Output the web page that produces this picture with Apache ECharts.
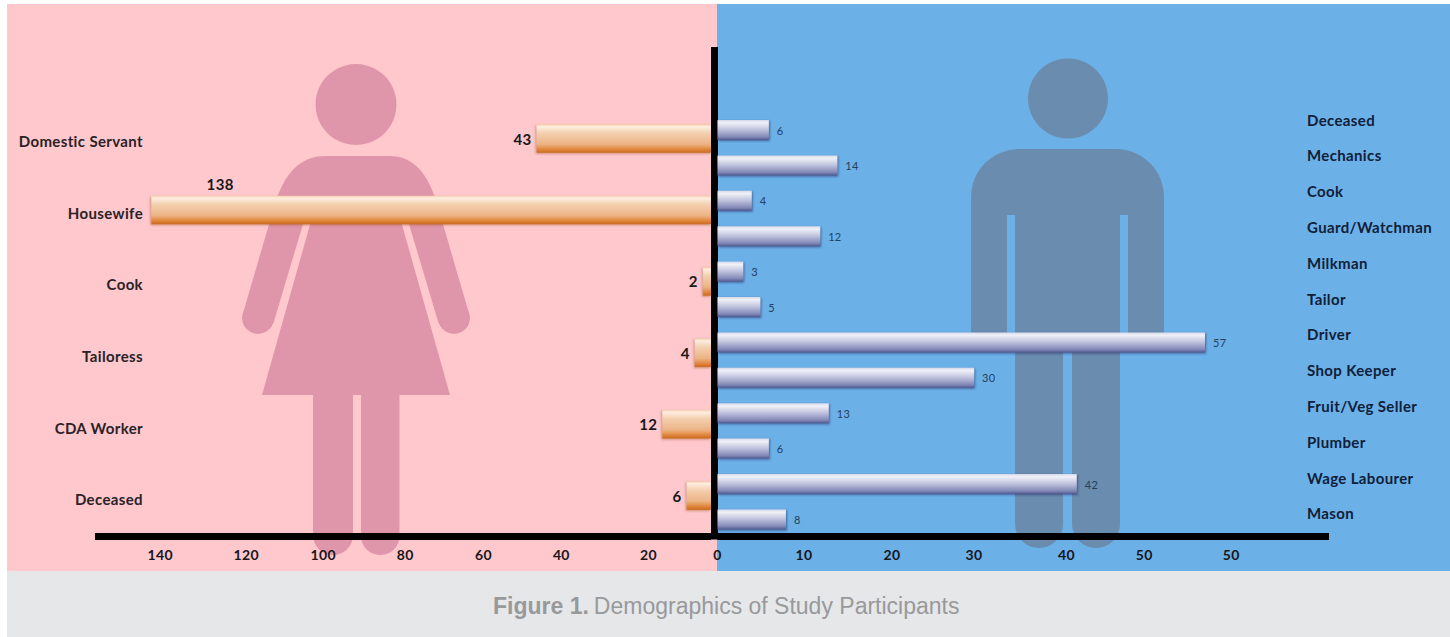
<!DOCTYPE html>
<html>
<head>
<meta charset="utf-8">
<style>
  html, body { margin: 0; padding: 0; background: #fff; }
  #main { width: 1450px; height: 637px; }
  #main text { letter-spacing: 0.36px; }
  #main text[style*="Liberation"] { letter-spacing: 0; }
</style>
<script src="https://cdn.jsdelivr.net/npm/echarts@6/dist/echarts.min.js"></script>
</head>
<body>
<div id="main"></div>
<script>
// Women's occupations, top to bottom
const femaleCategories = ['Domestic Servant', 'Housewife', 'Cook', 'Tailoress', 'CDA Worker', 'Deceased'];
const femaleValues = [43, 138, 2, 4, 12, 6];

// Men's occupations, top to bottom
const maleCategories = ['Deceased', 'Mechanics', 'Cook', 'Guard/Watchman', 'Milkman', 'Tailor', 'Driver',
  'Shop Keeper', 'Fruit/Veg Seller', 'Plumber', 'Wage Labourer', 'Mason'];
const maleValues = [6, 14, 4, 12, 3, 5, 57, 30, 13, 6, 42, 8];

// Printed axis labels, with the axis units each one is printed at.
const femaleTickLabels = ['20', '40', '60', '80', '100', '120', '140'];
const femaleTickStops = [15.4, 36.9, 56.1, 75.4, 95.6, 114.6, 135.8];
const maleTickLabels = ['0', '10', '20', '30', '40', '50', '50'];
const maleTickStops = [0, 10.1, 20.4, 30, 40.8, 49.9, 60.06];

const FONT = 'Lato, "Open Sans", sans-serif';
const CAPTION_FONT = '"Liberation Sans"';
const PINK = '#fec8cd', BLUE = '#6cb0e8', GREY = '#e6e7e9';
const WOMAN = '#e096aa', MAN = '#6a8cae';

const vGrad = stops => ({
  type: 'linear', x: 0, y: 0, x2: 0, y2: 1,
  colorStops: stops.map(([offset, color]) => ({ offset, color }))
});
const orangeFill = vGrad([[0, '#f6cdaa'], [0.08, '#fdeee2'], [0.3, '#f3d0b0'], [0.7, '#ecb384'], [0.9, '#de8133'], [1, '#c96a20']]);
const steelFill = vGrad([[0, '#d5d8ea'], [0.14, '#f0f1f8'], [0.5, '#bdc0dc'], [0.85, '#8288b6'], [1, '#50598f']]);

// Points along a quadratic curve, for the rounded shoulders
function quad(p0, c, p1, n = 14) {
  const pts = [];
  for (let i = 0; i <= n; i++) {
    const t = i / n, u = 1 - t;
    pts.push([u * u * p0[0] + 2 * u * t * c[0] + t * t * p1[0], u * u * p0[1] + 2 * u * t * c[1] + t * t * p1[1]]);
  }
  return pts;
}

const rect = (x, y, width, height, fill, r, z = -9) =>
  ({ type: 'rect', z, silent: true, shape: { x, y, width, height, r: r || 0 }, style: { fill } });
const circle = (cx, cy, r, fill) =>
  ({ type: 'circle', z: -9, silent: true, shape: { cx, cy, r }, style: { fill } });
const poly = (points, fill) =>
  ({ type: 'polygon', z: -9, silent: true, shape: { points }, style: { fill } });

const backdrop = [
  rect(7, 4, 710, 567, PINK, 0, -10),
  rect(717, 4, 733, 567, BLUE, 0, -10),
  rect(7, 571, 1443, 66, GREY, 0, -10)
];

const womanFigure = [
  circle(356, 104.5, 40.5, WOMAN),
  poly([...quad([278, 195], [293, 156], [325, 156]), ...quad([390, 156], [420, 156], [434, 195]), [440, 215], [272, 215]], WOMAN),
  poly([[272, 214], [242.5, 315], [273.5, 323], [303, 224], [303, 214]], WOMAN),
  circle(258, 318, 16, WOMAN),
  poly([[440, 214], [469.5, 315], [438.5, 323], [409, 224], [409, 214]], WOMAN),
  circle(454, 318, 16, WOMAN),
  poly([[313, 214], [399, 214], [450, 395], [262, 395]], WOMAN),
  rect(313, 394, 40, 161, WOMAN, [0, 0, 20, 20]),
  rect(361, 394, 38.5, 161, WOMAN, [0, 0, 19, 19])
];

const manFigure = [
  circle(1068, 98.5, 40, MAN),
  rect(971, 149, 193, 66, MAN, [48, 48, 0, 0]),
  rect(971, 214, 36, 125, MAN),
  rect(1128, 214, 36, 125, MAN),
  rect(1015, 214, 105, 136, MAN),
  rect(1015, 345, 48, 203, MAN, [0, 0, 24, 24]),
  rect(1072, 345, 48, 203, MAN, [0, 0, 24, 24])
];

const tickLabelStyle = {
  color: '#17161a', fontFamily: FONT, fontWeight: 'bold', fontSize: 14, margin: 11
};
const axisStroke = { color: '#000', width: 7, cap: 'butt' };

const option = {
  animation: false,
  backgroundColor: '#fff',
  title: {
    left: 493, top: 594, padding: 0,
    text: '{b|Figure 1.} {r|Demographics of Study Participants}',
    textStyle: {
      fontWeight: 'normal',
      rich: {
        b: { fontFamily: CAPTION_FONT, fontSize: 23, fontWeight: 'bold', color: '#98999b' },
        r: { fontFamily: CAPTION_FONT, fontSize: 23, fontWeight: 'normal', color: '#98999b' }
      }
    }
  },
  graphic: { elements: [...backdrop, ...womanFigure, ...manFigure] },
  grid: [
    { left: 95, top: 102.9, width: 616, height: 428.4 },
    { left: 717.5, top: 112.3, width: 611.5, height: 424.8 },
    { left: 143, top: 105.4, width: 1, height: 429.6 },
    { left: 1306, top: 101.6, width: 1, height: 429.6 },
    { left: 714, top: 47, width: 1, height: 492.5 }
  ],
  xAxis: [
    {
      gridIndex: 0, type: 'value', inverse: true, min: 0, max: 151.9, offset: 4.8,
      splitLine: { show: false }, axisTick: { show: false },
      axisLine: { show: true, onZero: false, lineStyle: axisStroke },
      axisLabel: {
        ...tickLabelStyle, customValues: femaleTickStops,
        formatter: (v) => femaleTickLabels[femaleTickStops.indexOf(v)]
      }
    },
    {
      gridIndex: 1, type: 'value', min: 0, max: 71.5, offset: -1,
      splitLine: { show: false }, axisTick: { show: false },
      axisLine: { show: true, onZero: false, lineStyle: axisStroke },
      axisLabel: {
        ...tickLabelStyle, customValues: maleTickStops,
        formatter: (v) => maleTickLabels[maleTickStops.indexOf(v)]
      }
    },
    { gridIndex: 2, type: 'value', show: false },
    { gridIndex: 3, type: 'value', show: false },
    { gridIndex: 4, type: 'value', show: false }
  ],
  yAxis: [
    { gridIndex: 0, type: 'category', inverse: true, data: femaleCategories, show: false },
    { gridIndex: 1, type: 'category', inverse: true, data: maleCategories, show: false },
    {
      gridIndex: 2, type: 'category', inverse: true, data: femaleCategories,
      axisLine: { show: false }, axisTick: { show: false },
      axisLabel: { margin: 0, color: '#2a2226', fontFamily: FONT, fontWeight: 'bold', fontSize: 15 }
    },
    {
      gridIndex: 3, type: 'category', inverse: true, position: 'right', data: maleCategories,
      axisLine: { show: false }, axisTick: { show: false },
      axisLabel: { margin: 0, color: '#0f2038', fontFamily: FONT, fontWeight: 'bold', fontSize: 15 }
    },
    {
      // Central vertical axis, taller than the bar bands
      gridIndex: 4, type: 'value', min: 0, max: 1,
      splitLine: { show: false }, axisTick: { show: false }, axisLabel: { show: false },
      axisLine: { show: true, onZero: false, lineStyle: axisStroke }
    }
  ],
  series: [
    {
      type: 'bar', xAxisIndex: 0, yAxisIndex: 0, barWidth: 28.5, z: 3,
      itemStyle: { color: orangeFill, shadowBlur: 2, shadowColor: 'rgba(150,70,10,.45)', shadowOffsetX: -1, shadowOffsetY: 1 },
      label: {
        show: true, position: 'left', distance: 5, color: '#1a181a',
        fontFamily: FONT, fontWeight: 'bold', fontSize: 15
      },
      // The tallest value sits above its bar rather than at its end
      data: femaleValues.map(value => value === Math.max(...femaleValues)
        ? { value, label: { position: 'top', offset: [-211, 0], distance: 4 } }
        : value)
    },
    {
      type: 'bar', xAxisIndex: 1, yAxisIndex: 1, barWidth: 20, z: 3,
      itemStyle: { color: steelFill, shadowBlur: 2, shadowColor: 'rgba(30,35,90,.55)', shadowOffsetX: 1, shadowOffsetY: 1 },
      label: {
        show: true, position: 'right', distance: 8, color: '#24405c',
        fontFamily: FONT, fontSize: 11
      },
      data: maleValues
    }
  ]
};

const chart = echarts.init(document.getElementById('main'), null, { renderer: 'svg', width: 1450, height: 637 });
chart.setOption(option);
</script>
</body>
</html>
